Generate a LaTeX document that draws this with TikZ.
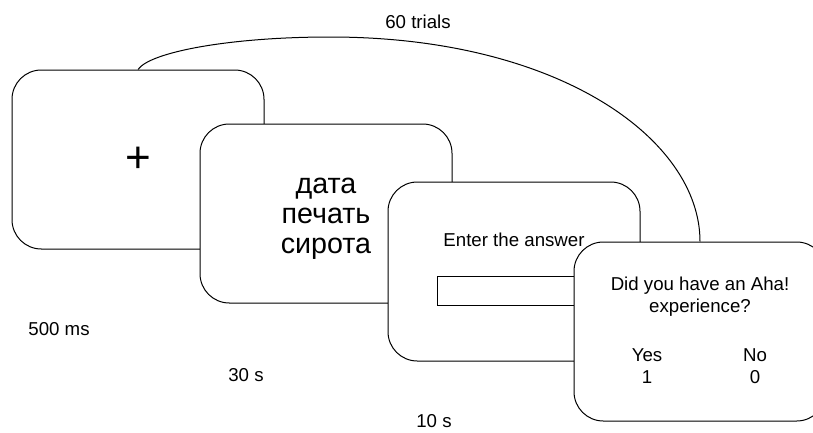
\documentclass[tikz,border=0pt]{standalone}
\usepackage{fontspec}
\setmainfont{Liberation Sans}

\tikzset{every picture/.style={line width=0.75pt}}
\tikzset{
	screen/.style={draw, fill=white, rounded corners=22pt, minimum width=189pt, minimum height=134.25pt, inner sep=0pt},
	small/.style={font=\fontsize{14}{16.5}\selectfont, inner sep=0pt, align=center},
	big/.style={font=\fontsize{21.5}{22.5}\selectfont, inner sep=0pt, align=center},
}

\begin{document}
\begin{tikzpicture}[x=0.75pt,y=0.75pt,yscale=-1,xscale=1]
	\path[use as bounding box] (0,0) rectangle (813,432);
	\clip (0,0) rectangle (813,432);

	%Rounded Rect [fixation]
	\node[screen] (fixation) at (138,159.5) {};
	%Rounded Rect [words]
	\node[screen] (words) at (326,213.5) {};
	%Rounded Rect [answer]
	\node[screen] (answer) at (514,271.5) {};
	%Shape: Rectangle [entry]
	\node[draw, fill=white, anchor=north west, minimum width=137pt, minimum height=21.75pt, inner sep=0pt] (entry) at (437,276) {};
	%Rounded Rect [rating]
	\node[screen] (rating) at (700,331.5) {};

	%Curve Lines [loop]
	\coordinate (top) at (330,37);
	\draw (fixation.north) .. controls (150,52) and (230,37) .. (top) .. controls (560,37) and (700,140) .. (rating.north);

	% Text Node
	\node[font=\fontsize{33}{33}\selectfont, inner sep=0pt] (plus) at (138,160) {+};
	% Text Node
	\node[big] (triplet) at (326,219) {дата\\печать\\сирота};
	% Text Node
	\node[small] (prompt) at (514,240) {Enter the answer};
	% Text Node
	\node[small] (question) at (700,297) {Did you have an Aha!\\experience?};
	% Text Node
	\node[small, font=\fontsize{14}{17}\selectfont] (yes) at (647,366) {Yes\\1};
	% Text Node
	\node[small, font=\fontsize{14}{17}\selectfont] (no) at (755,366) {No\\0};
	% Text Node
	\node[small] (trials) at (418,22) {60 trials};
	% Text Node
	\node[small] (t1) at (59,329) {500 ms};
	% Text Node
	\node[small] (t2) at (246,375) {30 s};
	% Text Node
	\node[small] (t3) at (434,421) {10 s};

\end{tikzpicture}
\end{document}
